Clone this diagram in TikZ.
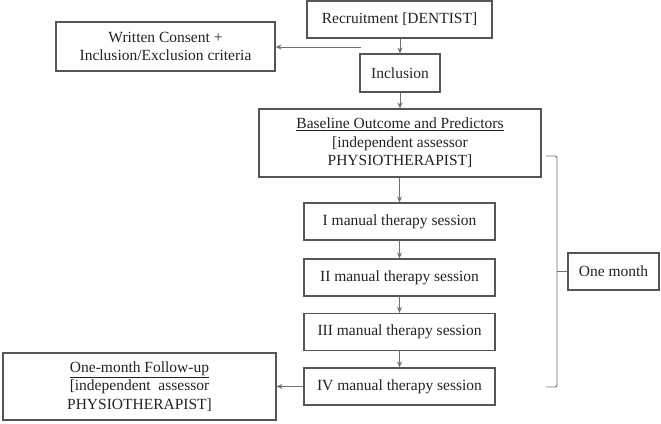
\documentclass[tikz,border=0pt]{standalone}
\usepackage{fontspec}
\setmainfont{Liberation Serif}
\usetikzlibrary{arrows.meta}
\definecolor{boxline}{HTML}{555555}
\definecolor{conn}{HTML}{707070}
\definecolor{txt}{HTML}{222222}
\begin{document}
\begin{tikzpicture}[x=1pt,y=1pt,
  box/.style={draw=boxline, line width=1.1pt, align=center, inner sep=0pt,
    text=txt, font=\fontsize{15.5}{18.5}\selectfont},
  arr/.style={draw=conn, line width=0.9pt, -{Stealth[length=6pt,width=5pt]}},
  ln/.style={draw=conn, line width=0.9pt}]
\useasboundingbox (0,0) rectangle (661,-423);
\node[box, minimum width=185pt, minimum height=37pt] (rec) at (399.5,-19.5) {Recruitment [DENTIST]};
\node[box, minimum width=219pt, minimum height=49pt] (cons) at (165.5,-46.5) {Written Consent +\\Inclusion/Exclusion criteria};
\node[box, minimum width=80pt, minimum height=38pt] (inc) at (400,-73) {Inclusion};
\node[box, minimum width=282pt, minimum height=68pt] (base) at (400,-143) {\underline{Baseline Outcome and Predictors}\\{}[independent assessor\\PHYSIOTHERAPIST]};
\node[box, minimum width=191pt, minimum height=37pt] (s1) at (399.5,-221.5) {I manual therapy session};
\node[box, minimum width=191pt, minimum height=37pt] (s2) at (399.5,-277.5) {II manual therapy session};
\node[box, minimum width=191pt, minimum height=37pt] (s3) at (399.5,-332) {III manual therapy session};
\node[box, minimum width=191pt, minimum height=37pt] (s4) at (399.5,-386.5) {IV manual therapy session};
\node[box, minimum width=91pt, minimum height=37pt] (month) at (613.5,-271.5) {One month};
\node[box, minimum width=273pt, minimum height=67pt] (fu) at (139.5,-386.5) {\underline{One-month Follow-up}\\{}[independent\ \ assessor\\PHYSIOTHERAPIST]};
\coordinate (split) at (361,-47);
\draw[arr] (split) -- (cons.east |- split);
\draw[arr] (rec.south -| inc.north) -- (inc.north);
\draw[arr] (inc) -- (base);
\draw[arr] (base.south -| s1.north) -- (s1.north);
\draw[arr] (s1) -- (s2);
\draw[arr] (s2) -- (s3);
\draw[arr] (s3) -- (s4);
\draw[arr] (s4) -- (fu);
\coordinate (bt) at (546,-156);
\coordinate (bb) at (546,-387);
\draw[ln, rounded corners=2pt] (bt) -- (557,-156) -- (557,-387) -- (bb);
\draw[ln] (557,-271.5) -- (month.west);
\end{tikzpicture}
\end{document}
